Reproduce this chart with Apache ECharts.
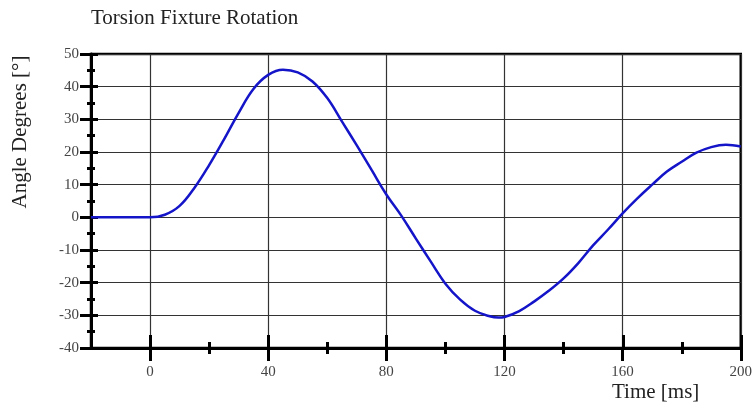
<!DOCTYPE html>
<html>
<head>
<meta charset="utf-8">
<script src="https://cdn.jsdelivr.net/npm/echarts@6/dist/echarts.min.js"></script>
<style>html,body{margin:0;padding:0;background:#fff}#c{width:755px;height:408px}</style>
</head>
<body>
<div id="c"></div>
<script>
// ---- data ----
const timeMs = [-20, -10, 0, 5, 10, 15, 20, 25, 30, 35, 40, 45, 50, 55, 60, 65, 70, 75, 80, 85, 90, 95, 100, 105, 110, 115, 118, 120, 125, 130, 135, 140, 145, 150, 155, 160, 165, 170, 175, 180, 185, 190, 195, 200];
const angleDeg = [0, 0, 0, 0.8, 3.5, 9, 16, 23.8, 32, 39.3, 43.6, 45.2, 44.4, 41.6, 36.5, 29.3, 22, 14.5, 7, 0.6, -6.5, -13.5, -20.3, -25.2, -28.6, -30.3, -30.7, -30.5, -28.7, -25.8, -22.5, -18.7, -14, -8.6, -3.8, 1.2, 5.8, 10, 14, 17, 19.8, 21.5, 22.2, 21.7];
const xMajorTicks = [0, 40, 80, 120, 160, 200];
const xMinorTicks = [20, 60, 100, 140, 180];
const yMinorTicks = [-35, -25, -15, -5, 5, 15, 25, 35, 45];
const titleText = 'Torsion Fixture Rotation';
const yName = 'Angle Degrees [°]';
const xName = 'Time [ms]';

const FONT = '"Liberation Serif", "Times New Roman", serif';
const gridRect = {left: 91, right: 14, top: 54, bottom: 60};
const points = timeMs.map((t, i) => [t, angleDeg[i]]);

function xAx(gi, ticks, len, inside, main) {
  return {
    type: 'value', gridIndex: gi, min: -20, max: 200, position: 'bottom',
    axisLine: {show: main, onZero: false, lineStyle: {color: '#000', width: 3}},
    axisTick: {show: true, customValues: ticks, length: len, inside: inside, lineStyle: {color: '#000', width: 3}},
    axisLabel: main ? {show: true, customValues: xMajorTicks, margin: 17, color: '#444', fontFamily: FONT, fontSize: 15} : {show: false},
    splitLine: {show: main, lineStyle: {color: '#333', width: 1.2}}
  };
}
function yAx(gi, opts) {
  return Object.assign({
    type: 'value', gridIndex: gi, min: -40, max: 50, interval: 10, position: 'left',
    axisLine: {show: false, onZero: false},
    axisLabel: {show: false},
    splitLine: {show: false}
  }, opts);
}

const option = {
  backgroundColor: '#fff',
  animation: false,
  title: {text: titleText, left: 86, top: 3, textStyle: {fontFamily: FONT, fontSize: 21, fontWeight: 'normal', color: '#222'}},
  grid: [
    Object.assign({show: true, borderColor: '#000', borderWidth: 2.5, backgroundColor: 'transparent'}, gridRect),
    Object.assign({}, gridRect), Object.assign({}, gridRect), Object.assign({}, gridRect)
  ],
  xAxis: [
    xAx(0, xMajorTicks, 13, false, true),
    xAx(1, xMajorTicks, 13, true, false),
    xAx(2, xMinorTicks, 6, false, false),
    xAx(3, xMinorTicks, 6, true, false)
  ],
  yAxis: [
    yAx(0, {
      axisLine: {show: true, onZero: false, lineStyle: {color: '#000', width: 3}},
      axisTick: {show: true, length: 11, inside: false, lineStyle: {color: '#000', width: 3}},
      axisLabel: {show: true, margin: 12, color: '#444', fontFamily: FONT, fontSize: 15},
      splitLine: {show: true, lineStyle: {color: '#333', width: 1.2}}
    }),
    yAx(1, {axisTick: {show: true, length: 7, inside: true, lineStyle: {color: '#000', width: 3}}}),
    yAx(2, {axisTick: {show: true, customValues: yMinorTicks, length: 4, inside: false, lineStyle: {color: '#000', width: 3}}}),
    yAx(3, {axisTick: {show: true, customValues: yMinorTicks, length: 4, inside: true, lineStyle: {color: '#000', width: 3}}})
  ],
  graphic: [
    {type: 'text', x: 20, y: 132, rotation: Math.PI / 2,
     style: {text: yName, fontFamily: FONT, fontSize: 21, fill: '#222', textAlign: 'center', textVerticalAlign: 'middle'}},
    {type: 'text', left: 612, top: 382,
     style: {text: xName, fontFamily: FONT, fontSize: 21, fill: '#222'}}
  ],
  series: [{
    type: 'line', xAxisIndex: 0, yAxisIndex: 0, data: points, smooth: 0.4,
    showSymbol: false, symbol: 'none',
    lineStyle: {color: '#1414c8', width: 2.5}
  }]
};
echarts.init(document.getElementById('c')).setOption(option);
</script>
</body>
</html>
